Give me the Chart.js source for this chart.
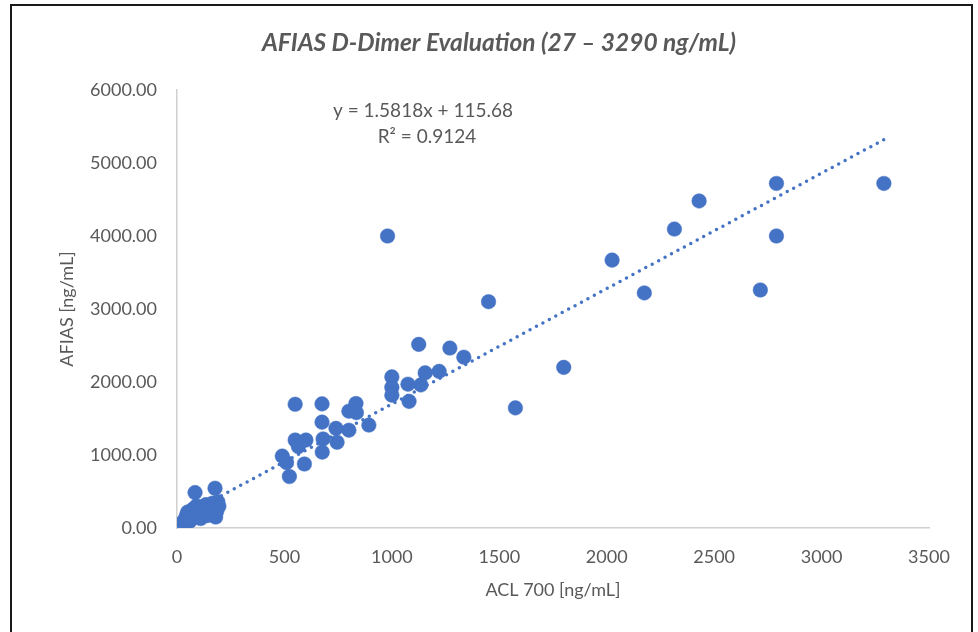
<!DOCTYPE html>
<html>
<head>
<meta charset="utf-8">
<script src="https://cdn.jsdelivr.net/npm/chart.js@4/dist/chart.umd.min.js"></script>
<style>
  html, body { margin: 0; padding: 0; background: #fff; }
  #wrap { position: relative; width: 978px; height: 632px; overflow: hidden; }
  #frame { position: absolute; left: 10px; top: 4px; width: 963px; height: 700px; border: 2px solid #1a1a1a; box-sizing: border-box; pointer-events: none; }
  canvas { position: absolute; left: 0; top: 0; }
</style>
</head>
<body>
<div id="wrap">
  <canvas id="c" width="978" height="632"></canvas>
  <div id="frame"></div>
</div>
<script>
const chartTitle = "AFIAS D-Dimer Evaluation (27 \u2013 3290 ng/mL)";
const xAxisTitle = "ACL 700 [ng/mL]";
const yAxisTitle = "AFIAS [ng/mL]";
const equationLines = ["y = 1.5818x + 115.68", "R\u00B2 = 0.9124"];
const trendSlope = 1.5818;
const trendIntercept = 115.68;

const aclValues = [
  27, 35, 45, 50, 60, 65, 75, 84, 90, 95, 105, 110, 115, 125, 135, 140, 150, 165, 177, 180, 185, 190, 195,
  490, 510, 523, 550, 550, 565, 593, 600, 675, 675, 680, 676, 740, 745, 800, 800, 833, 835, 893,
  980, 1000, 1000, 1000, 1075, 1080, 1125, 1135, 1155, 1220, 1270, 1335, 1450, 1575, 1800,
  2025, 2175, 2315, 2430, 2715, 2790, 2790, 3290
];
const afiasValues = [
  75, 110, 180, 220, 95, 150, 260, 485, 300, 180, 240, 130, 290, 200, 320, 170, 260, 340, 545, 150, 230, 360, 300,
  985, 895, 705, 1695, 1205, 1115, 877, 1205, 1700, 1450, 1220, 1040, 1365, 1175, 1340, 1600, 1705, 1580, 1410,
  4000, 2070, 1925, 1820, 1970, 1735, 2515, 1960, 2125, 2145, 2465, 2340, 3100, 1645, 2200,
  3670, 3220, 4095, 4480, 3260, 4720, 4000, 4720
];

const xTicks = [0, 500, 1000, 1500, 2000, 2500, 3000, 3500];
const yTicks = [0, 1000, 2000, 3000, 4000, 5000, 6000];

const points = aclValues.map((x, i) => ({ x: x, y: afiasValues[i] }));
const xMin = Math.min(...aclValues), xMax = Math.max(...aclValues);
const trendPoints = [xMin, xMax].map(x => ({ x: x, y: trendSlope * x + trendIntercept }));

const FONT = "Lato, 'Open Sans', sans-serif";
const TEXT = "#595959";

const overlay = {
  id: 'overlay',
  afterDraw(chart) {
    const ctx = chart.ctx;
    ctx.save();
    ctx.fillStyle = TEXT;
    ctx.textAlign = 'center';
    ctx.textBaseline = 'middle';
    ctx.font = "italic bold 24.5px " + FONT;
    ctx.fillText(chartTitle, 499, 43);
    ctx.font = "19px " + FONT;
    ctx.fillText(equationLines[0], 423, 111);
    ctx.fillText(equationLines[1], 427, 137);
    ctx.restore();
  }
};

new Chart(document.getElementById('c'), {
  type: 'scatter',
  data: {
    datasets: [
      {
        type: 'line',
        data: trendPoints,
        borderColor: '#4472C4',
        borderWidth: 3.5,
        borderDash: [0, 7.3],
        borderCapStyle: 'round',
        pointRadius: 0,
        fill: false,
        order: -1
      },
      {
        data: points,
        backgroundColor: '#4472C4',
        borderColor: '#4472C4',
        borderWidth: 0.5,
        pointRadius: 7.3,
        pointHoverRadius: 7.3
      }
    ]
  },
  options: {
    responsive: false,
    animation: false,
    events: [],
    layout: { padding: { left: 48, right: 49, top: 90, bottom: 0 } },
    plugins: { legend: { display: false }, tooltip: { enabled: false }, title: { display: false } },
    scales: {
      x: {
        type: 'linear',
        min: 0, max: 3500,
        afterBuildTicks: s => { s.ticks = xTicks.map(v => ({ value: v })); },
        afterFit: s => { s.height = 104; },
        grid: { display: false, drawTicks: false },
        border: { display: true, color: '#D0D0D0', width: 1.5 },
        ticks: { color: TEXT, font: { family: FONT, size: 18 }, padding: 18, maxRotation: 0, callback: v => String(v) },
        title: { display: true, text: xAxisTitle, color: TEXT, font: { family: FONT, size: 18 }, padding: { top: 0, bottom: 31 } }
      },
      y: {
        type: 'linear',
        min: 0, max: 6000,
        afterBuildTicks: s => { s.ticks = yTicks.map(v => ({ value: v })); },
        afterFit: s => { s.width = 129; },
        grid: { display: false, drawTicks: false },
        border: { display: true, color: '#D0D0D0', width: 1.5 },
        ticks: { color: TEXT, font: { family: FONT, size: 18 }, padding: 20, callback: v => Number(v).toFixed(2) },
        title: { display: true, text: yAxisTitle, color: TEXT, font: { family: FONT, size: 18 }, padding: { top: 8, bottom: 0 } }
      }
    }
  },
  plugins: [overlay]
});
</script>
</body>
</html>
